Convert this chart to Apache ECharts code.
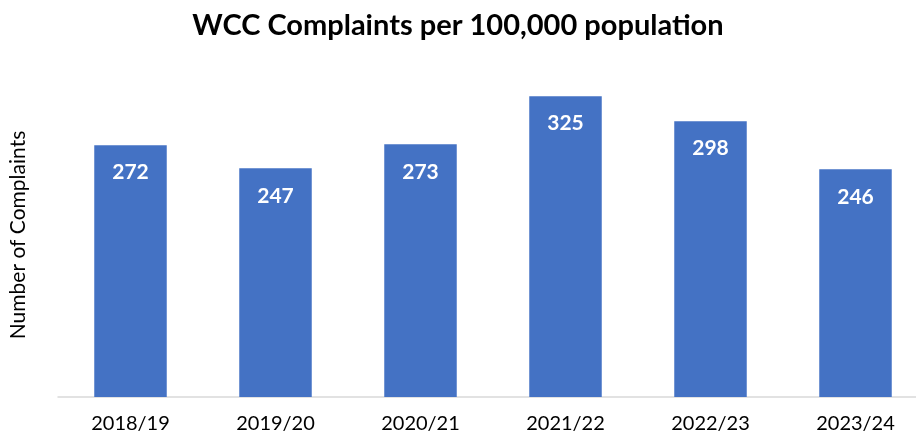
<!DOCTYPE html>
<html>
<head>
<meta charset="utf-8">
<script src="https://cdn.jsdelivr.net/npm/echarts@6/dist/echarts.min.js"></script>
<style>
  html, body { margin: 0; padding: 0; background: #fff; }
  #chart { width: 916px; height: 441px; }
</style>
</head>
<body>
<div id="chart"></div>
<script>
const years = ['2018/19', '2019/20', '2020/21', '2021/22', '2022/23', '2023/24'];
const complaints = [272, 247, 273, 325, 298, 246];

const chart = echarts.init(document.getElementById('chart'));

const option = {
  animation: false,
  title: {
    text: 'WCC Complaints per 100,000 population',
    left: 'center',
    top: 6,
    textStyle: {
      fontFamily: 'Lato',
      fontWeight: 'bold',
      fontSize: 29,
      color: '#000'
    }
  },
  grid: {
    left: 58,
    top: 73,
    width: 870,
    bottom: 44,
    containLabel: false,
    outerBoundsMode: 'none'
  },
  xAxis: {
    type: 'category',
    data: years,
    axisLine: { lineStyle: { color: '#d9d9d9', width: 1.5 } },
    axisTick: { show: false },
    axisLabel: {
      fontFamily: 'Lato',
      fontSize: 20,
      color: '#000',
      margin: 17
    }
  },
  yAxis: {
    type: 'value',
    min: 0,
    max: 350,
    name: 'Number of Complaints',
    nameLocation: 'middle',
    nameGap: 29,
    nameTextStyle: {
      fontFamily: 'Lato',
      fontSize: 21,
      color: '#000'
    },
    axisLabel: { show: false },
    axisLine: { show: false },
    axisTick: { show: false },
    splitLine: { show: false }
  },
  series: [
    {
      type: 'bar',
      data: complaints,
      barWidth: '50%',
      itemStyle: { color: '#4472C4' },
      label: {
        show: true,
        position: 'insideTop',
        distance: 17,
        color: '#fff',
        fontFamily: 'Lato',
        fontWeight: 'bold',
        fontSize: 21
      }
    }
  ]
};

chart.setOption(option);
</script>
</body>
</html>
